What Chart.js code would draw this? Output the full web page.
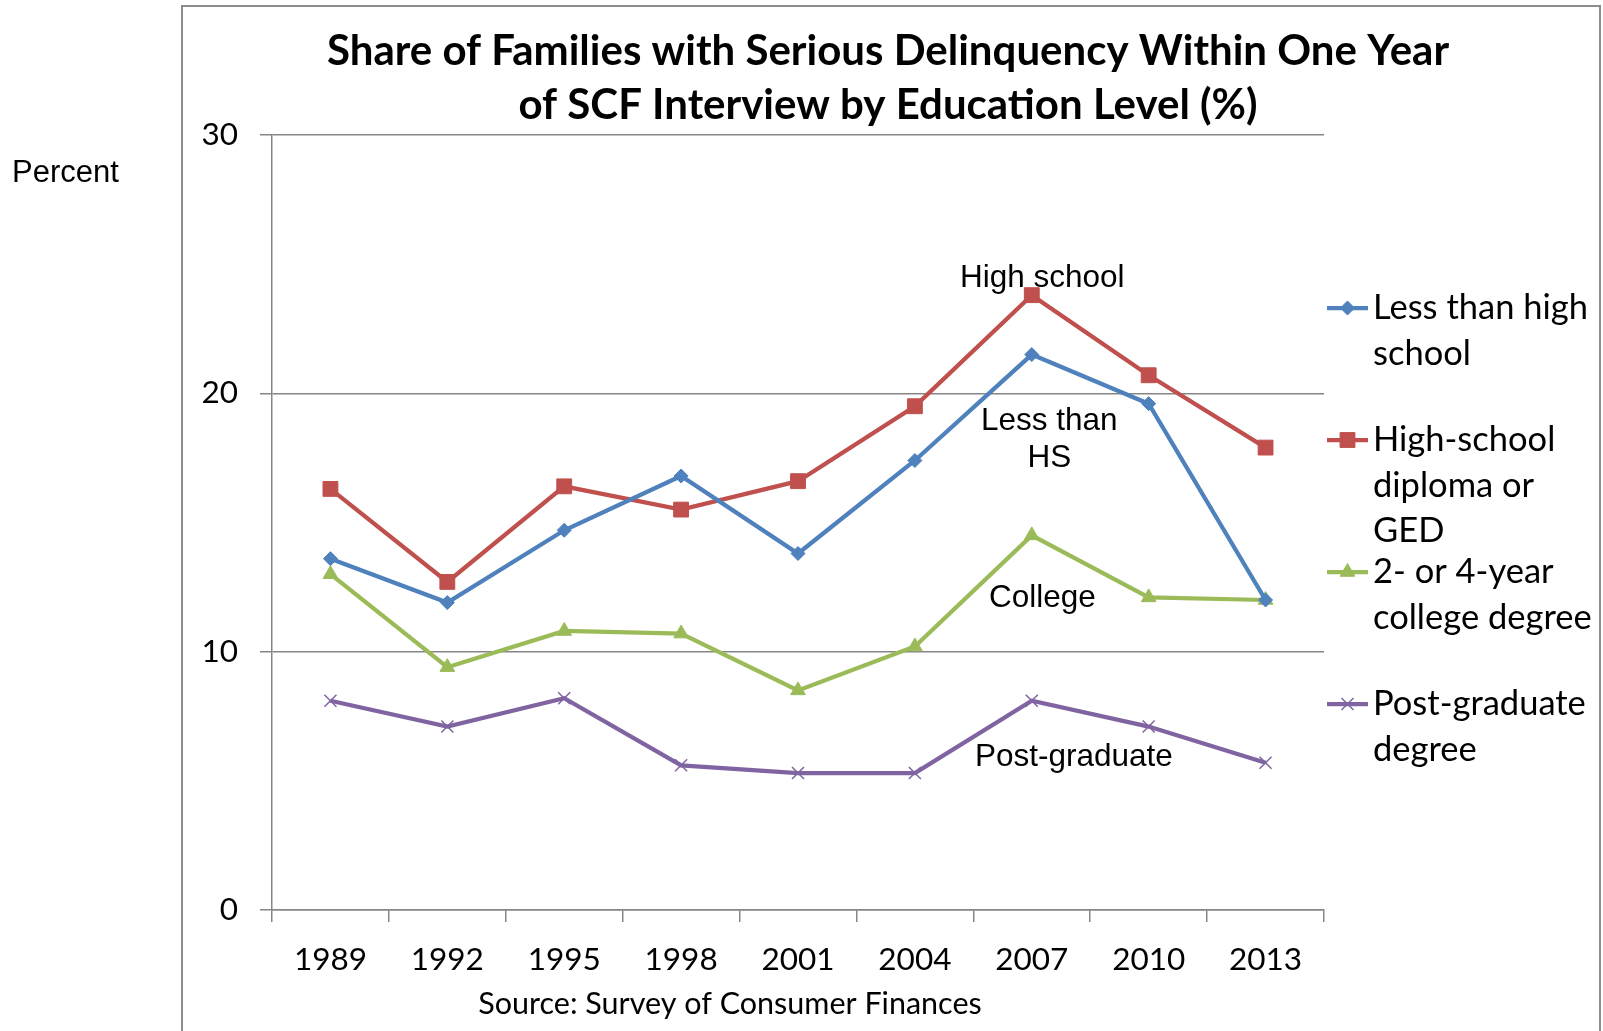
<!DOCTYPE html>
<html lang="en">
<head>
<meta charset="UTF-8">
<title>Serious Delinquency by Education Level</title>
<style>
    html, body { margin: 0; padding: 0; background: #fff; overflow: hidden; }
    canvas { display: block; }
</style>
<script src="https://cdn.jsdelivr.net/npm/chart.js"></script>
</head>
<body>
<canvas id="chart" width="1603" height="1031"></canvas>
<script>
// Survey years and share of families (%) per education level
const years = ['1989', '1992', '1995', '1998', '2001', '2004', '2007', '2010', '2013'];
const lessThanHS = [13.6, 11.9, 14.7, 16.8, 13.8, 17.4, 21.5, 19.6, 12.0];
const highSchool = [16.3, 12.7, 16.4, 15.5, 16.6, 19.5, 23.8, 20.7, 17.9];
const college    = [13.0, 9.4, 10.8, 10.7, 8.5, 10.2, 14.5, 12.1, 12.0];
const postGrad   = [8.1, 7.1, 8.2, 5.6, 5.3, 5.3, 8.1, 7.1, 5.7];
const yTicks = [0, 10, 20, 30];

const seriesNames = ['Less than high school', 'High-school diploma or GED', '2- or 4-year college degree', 'Post-graduate degree'];
const legendLines = [['Less than high', 'school'], ['High-school', 'diploma or', 'GED'], ['2- or 4-year', 'college degree'], ['Post-graduate', 'degree']];
const titleLines = ['Share of Families with Serious Delinquency Within One Year', 'of SCF Interview by Education Level (%)'];
const sourceText = 'Source: Survey of Consumer Finances';

// in-plot labels, anchored in data space (category index, value)
const notes = [
    { text: 'High school', at: 6.09, value: 24.47 },
    { text: 'Less than', at: 6.15, value: 18.93 },
    { text: 'HS', at: 6.15, value: 17.48 },
    { text: 'College', at: 6.09, value: 12.08 },
    { text: 'Post-graduate', at: 6.36, value: 5.92 }
];

const GRID = '#868686';
const calibriLike = 'Lato, "Open Sans", sans-serif';
const arialLike = '"Liberation Sans", Arial, sans-serif';

function makeSet(label, data, color, style, radius) {
    return {
        label: label,
        data: data,
        borderColor: color,
        backgroundColor: color,
        borderWidth: 4.25,
        tension: 0,
        pointStyle: style,
        pointRadius: radius,
        pointBorderWidth: style === 'crossRot' ? 1.5 : 1,
        pointBorderColor: color,
        pointBackgroundColor: color
    };
}

const decorations = {
    id: 'decorations',
    beforeDraw(chart) {
        const ctx = chart.ctx;
        ctx.save();
        ctx.fillStyle = '#fff';
        ctx.fillRect(0, 0, chart.width, chart.height);
        ctx.strokeStyle = '#8c8c8c';
        ctx.lineWidth = 2;
        ctx.strokeRect(182, 6, 1418, 1100);
        ctx.restore();
    },
    afterDraw(chart) {
        const ctx = chart.ctx;
        const xs = chart.scales.x, ys = chart.scales.y;
        ctx.save();
        ctx.fillStyle = '#000';
        ctx.textBaseline = 'middle';

        // title
        ctx.textAlign = 'center';
        ctx.font = 'bold 42px ' + calibriLike;
        ctx.fillText(titleLines[0], 888, 51);
        ctx.fillText(titleLines[1], 888, 105);

        // source note
        ctx.font = '30.5px ' + calibriLike;
        ctx.fillText(sourceText, 730, 1004);

        // axis caption
        ctx.textAlign = 'left';
        ctx.font = '31px ' + arialLike;
        ctx.fillText('Percent', 12, 173);

        // in-plot labels
        ctx.textAlign = 'center';
        ctx.font = '31.5px ' + arialLike;
        notes.forEach(n => {
            ctx.fillText(n.text, xs.getPixelForValue(n.at), ys.getPixelForValue(n.value));
        });

        // legend
        const lineX0 = 1327, lineX1 = 1368, textX = 1373;
        ctx.font = '34.5px ' + calibriLike;
        chart.data.datasets.forEach((ds, i) => {
            const top = 308 + i * 132;
            ctx.strokeStyle = ds.borderColor;
            ctx.lineWidth = ds.borderWidth;
            ctx.beginPath();
            ctx.moveTo(lineX0, top);
            ctx.lineTo(lineX1, top);
            ctx.stroke();
            ctx.fillStyle = ds.pointBackgroundColor;
            ctx.strokeStyle = ds.pointBorderColor;
            ctx.lineWidth = ds.pointBorderWidth;
            Chart.helpers.drawPoint(ctx, {
                pointStyle: ds.pointStyle,
                radius: ds.pointRadius,
                borderWidth: ds.pointBorderWidth,
                rotation: 0
            }, (lineX0 + lineX1) / 2, top);
            ctx.fillStyle = '#000';
            ctx.textAlign = 'left';
            legendLines[i].forEach((t, k) => ctx.fillText(t, textX, top + k * 45.5));
        });
        ctx.restore();
    }
};

new Chart(document.getElementById('chart'), {
    type: 'line',
    data: {
        labels: years,
        datasets: [
            makeSet(seriesNames[0], lessThanHS, '#4F81BD', 'rectRot', 7),
            makeSet(seriesNames[1], highSchool, '#C0504D', 'rect', 10.5),
            makeSet(seriesNames[2], college, '#9BBB59', 'triangle', 8.5),
            makeSet(seriesNames[3], postGrad, '#8064A2', 'crossRot', 8.5)
        ]
    },
    options: {
        responsive: false,
        animation: false,
        devicePixelRatio: 1,
        layout: { padding: { top: 135, right: 279, left: 0, bottom: 0 } },
        plugins: {
            legend: { display: false },
            title: { display: false },
            tooltip: { enabled: false }
        },
        scales: {
            x: {
                offset: true,
                afterFit(s) { s.height = 121; },
                border: { display: true, color: GRID, width: 1.5 },
                grid: { display: true, offset: true, drawOnChartArea: false, color: GRID, tickLength: 12, lineWidth: 1.5 },
                ticks: { color: '#000', padding: 19, maxRotation: 0, font: { family: calibriLike, size: 31.5 } }
            },
            y: {
                min: 0,
                max: 30,
                afterFit(s) { s.width = 272; },
                afterBuildTicks(s) { s.ticks = yTicks.map(v => ({ value: v })); },
                border: { display: true, color: GRID, width: 1.5 },
                grid: { color: GRID, lineWidth: 1.5, tickLength: 12 },
                ticks: { color: '#000', padding: 22, font: { family: calibriLike, size: 31.5 } }
            }
        }
    },
    plugins: [decorations]
});
</script>
</body>
</html>
